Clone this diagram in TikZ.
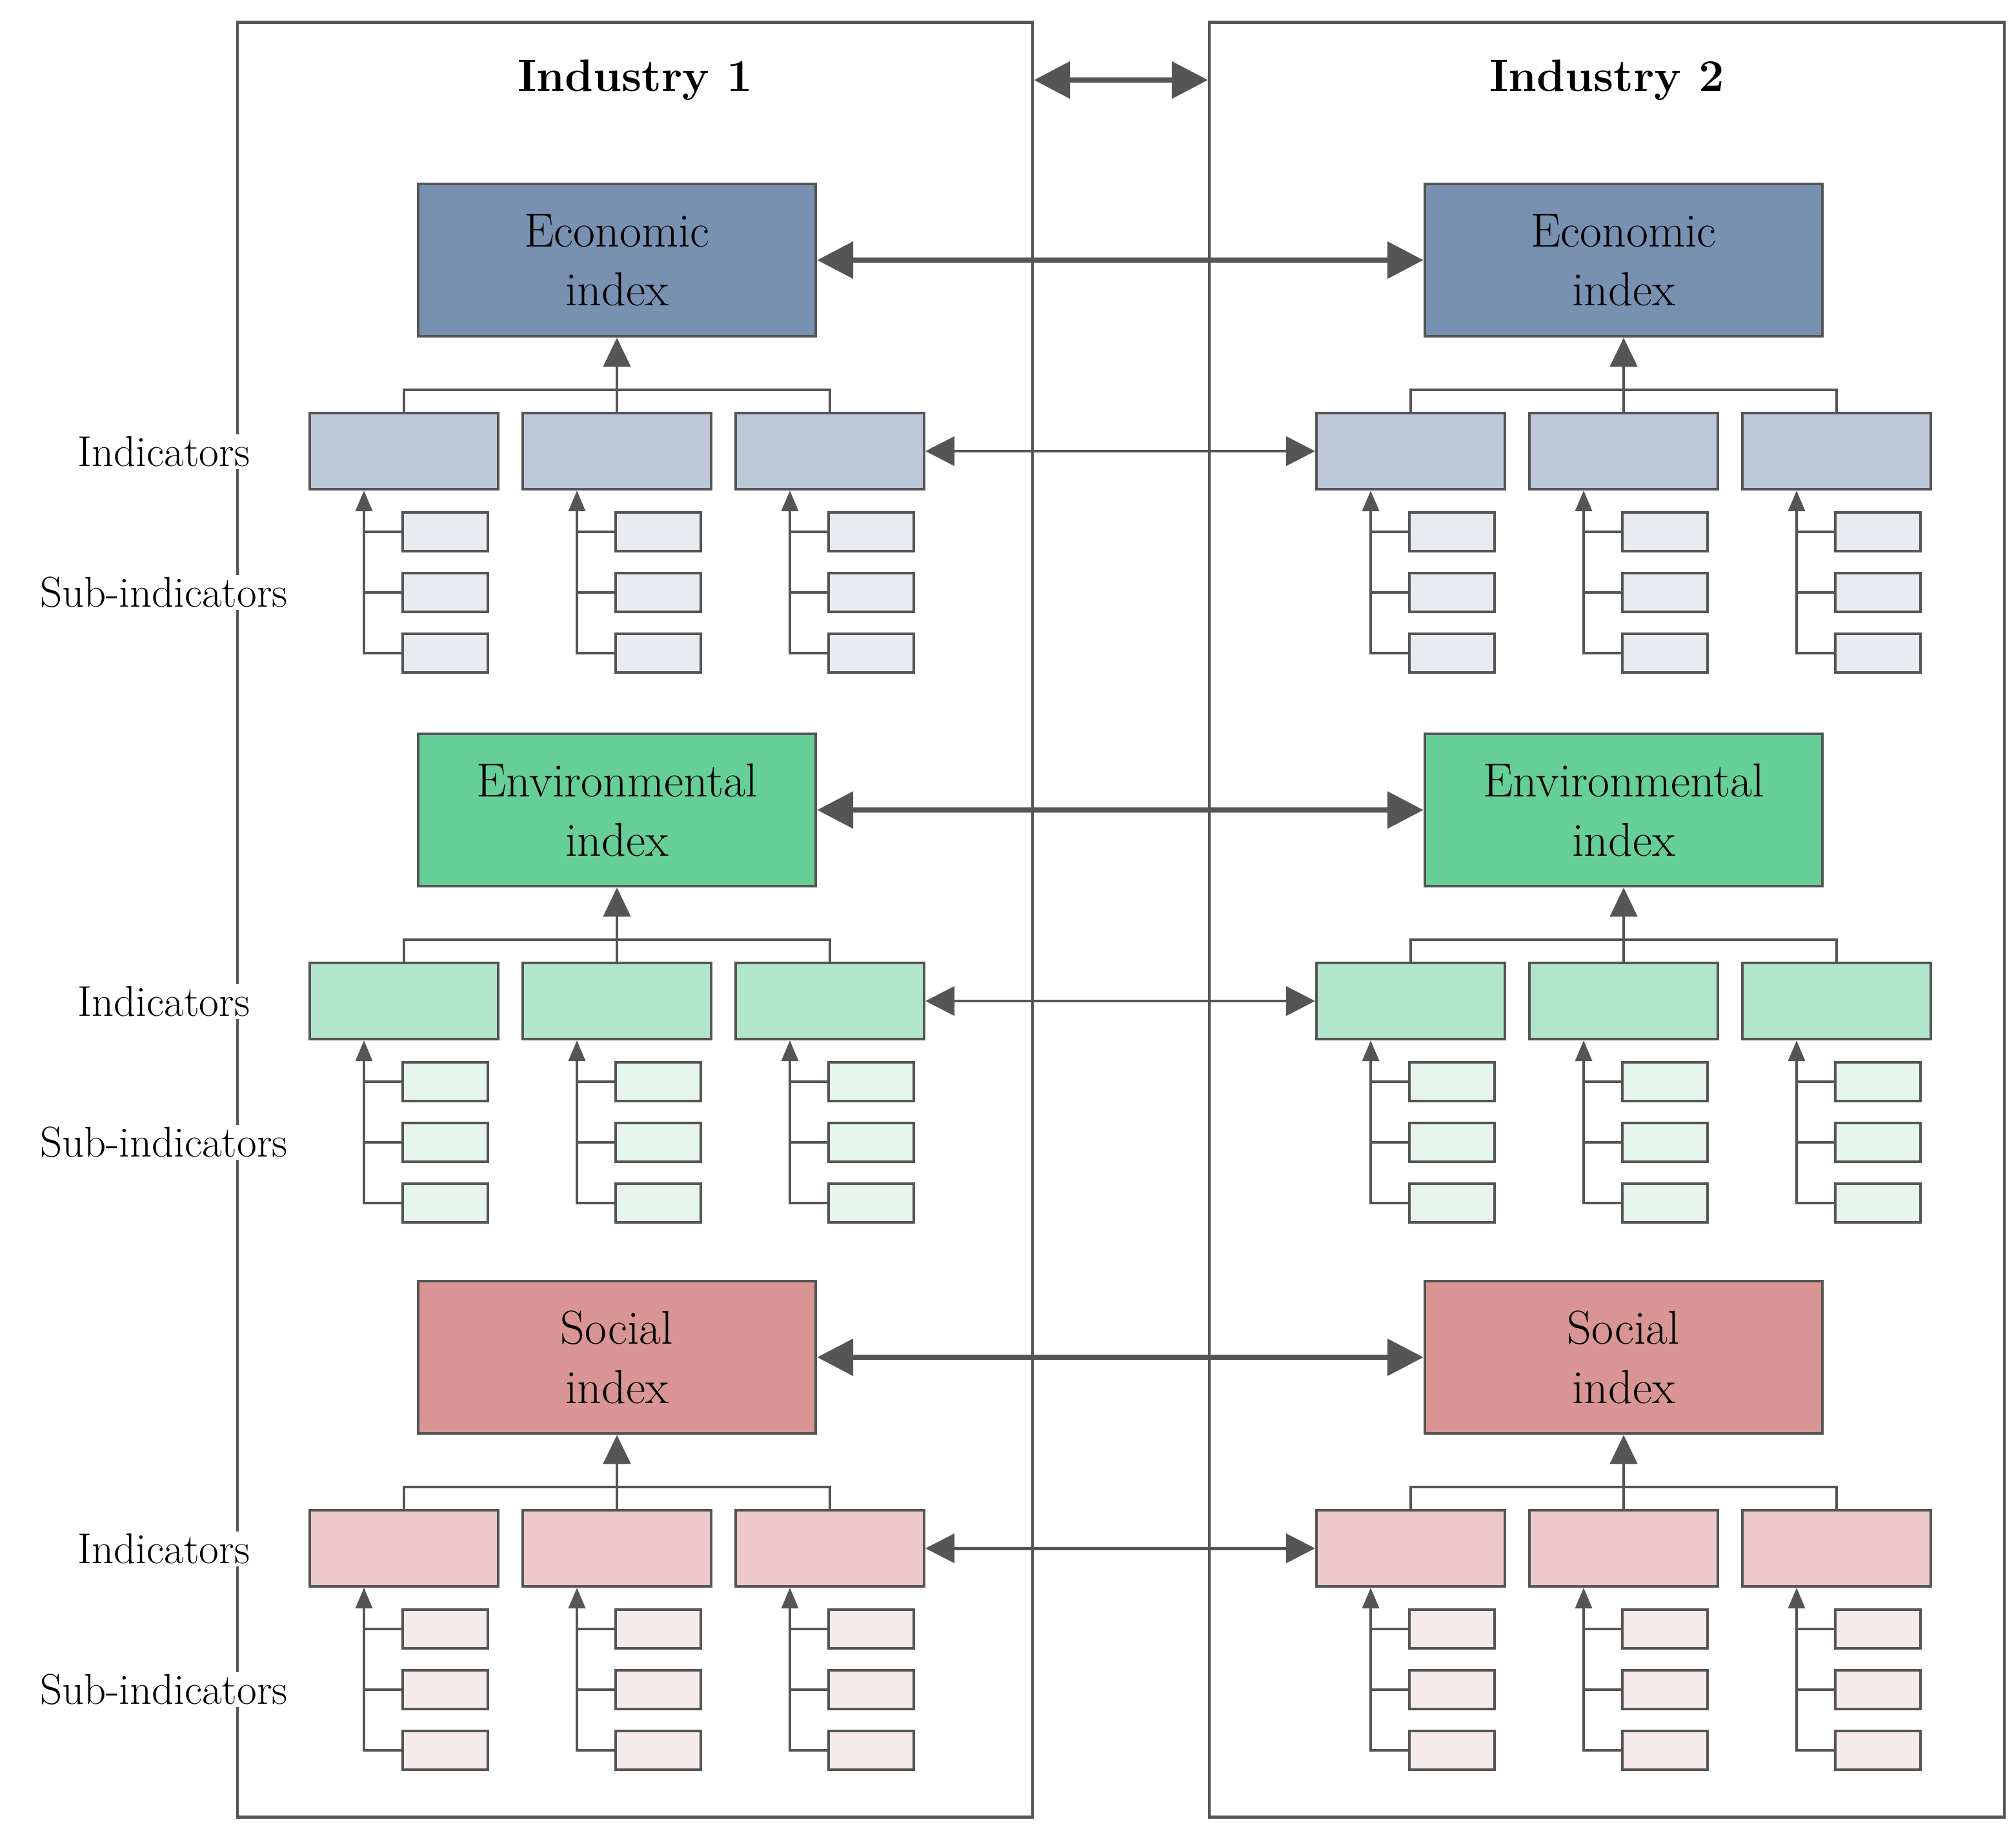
\documentclass[tikz,border=0pt]{standalone}
\usetikzlibrary{arrows.meta}
\definecolor{ln}{HTML}{555555}
\definecolor{ecoD}{HTML}{7891B0}\definecolor{ecoM}{HTML}{BDC9D8}\definecolor{ecoL}{HTML}{E8EBF0}
\definecolor{envD}{HTML}{66CF97}\definecolor{envM}{HTML}{B2E6CB}\definecolor{envL}{HTML}{E6F6ED}
\definecolor{socD}{HTML}{D99594}\definecolor{socM}{HTML}{EDC9C9}\definecolor{socL}{HTML}{F6EAEA}
\begin{document}
\begin{tikzpicture}[x=0.02cm,y=-0.02cm,
  frame/.style={draw=ln,line width=1.3pt,minimum width=12.32cm,minimum height=27.82cm,inner sep=0},
  mainbox/.style={draw=ln,line width=1.3pt,minimum width=6.16cm,minimum height=2.36cm,align=center,inner sep=0,font=\fontsize{21}{26}\selectfont},
  indbox/.style={draw=ln,line width=1.2pt,minimum width=2.92cm,minimum height=1.18cm,inner sep=0},
  subbox/.style={draw=ln,line width=1.1pt,minimum width=1.32cm,minimum height=0.6cm,inner sep=0},
  lab/.style={fill=white,inner sep=1pt,font=\fontsize{19}{22}\selectfont},
  big/.style={draw=ln,line width=2.4pt,{Triangle[length=0.56cm,width=0.56cm]}-{Triangle[length=0.56cm,width=0.56cm]}},
  indarr/.style={draw=ln,line width=1.4pt,{Triangle[length=0.45cm,width=0.45cm]}-{Triangle[length=0.45cm,width=0.45cm]}},
  uparr/.style={draw=ln,line width=1.4pt,-{Triangle[length=0.45cm,width=0.42cm]}},
  subarr/.style={draw=ln,line width=1.1pt,-{Triangle[length=0.32cm,width=0.26cm]}},
  conn/.style={draw=ln,line width=1.1pt}]
\useasboundingbox (0,0) rectangle (1562,1418);
\node[frame] (f1) at (492,712.5) {};
\node[frame] (f2) at (1245,712.5) {};
\node[font=\fontsize{20}{24}\selectfont\bfseries] (t1) at (492,62) {Industry 1};
\node[font=\fontsize{20}{24}\selectfont\bfseries] (t2) at (1245,62) {Industry 2};
\draw[big] (f1.east |- t1) -- (f2.west |- t2);
\foreach \b/\dy/\dk/\md/\lt/\nm in {e/0/ecoD/ecoM/ecoL/Economic,n/426/envD/envM/envL/Environmental,s/850/socD/socM/socL/Social}{
  \foreach \s/\dx in {a/0,b/780}{
    \node[mainbox,fill=\dk] (m\b\s) at (478+\dx,201.5+\dy) {\nm\\index};
    \foreach \i/\ix in {1/313,2/478,3/643}{
      \node[indbox,fill=\md] (i\b\s\i) at (\ix+\dx,349.5+\dy) {};
      \foreach \k/\ky in {1/412,2/459,3/506}{
        \node[subbox,fill=\lt] (u\b\s\i\k) at (\ix+32+\dx,\ky+\dy) {};
      }
      \draw[subarr] (u\b\s\i3.west) -| ([xshift=-0.62cm]i\b\s\i.south);
      \draw[conn] (u\b\s\i1.west) -- ++(-0.6cm,0);
      \draw[conn] (u\b\s\i2.west) -- ++(-0.6cm,0);
    }
    \draw[conn] (i\b\s1.north) -- ++(0,0.34cm) -| (i\b\s3.north);
    \draw[uparr] (i\b\s2.north) -- (m\b\s.south);
  }
  \draw[big] (m\b a.east) -- (m\b b.west);
  \draw[indarr] (i\b a3.east) -- (i\b b1.west);
  \node[lab] (li\b) at (127,350+\dy) {Indicators};
  \node[lab] (ls\b) at (127,459+\dy) {Sub-indicators};
}
\end{tikzpicture}
\end{document}
